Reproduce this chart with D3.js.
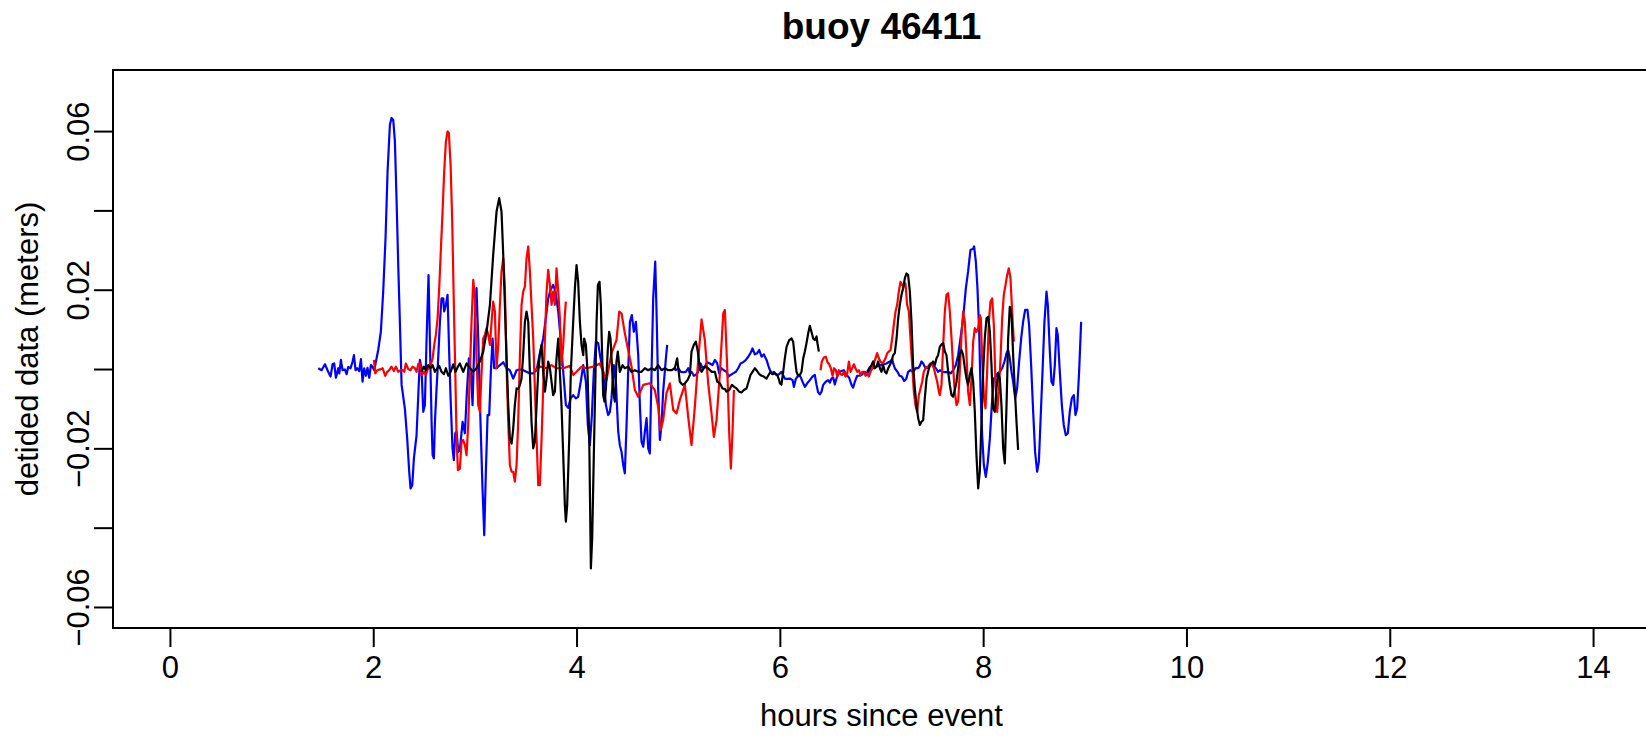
<!DOCTYPE html>
<html>
<head>
<meta charset="utf-8">
<script src="https://cdn.jsdelivr.net/npm/d3@7"></script>
<style>
  html, body { margin: 0; padding: 0; background: #fff; }
  svg { display: block; font-family: "Liberation Sans", Arial, Helvetica, sans-serif; }
</style>
</head>
<body>
<div id="chart"></div>
<script>
// Axis ticks and labels
const xTicks = [0, 2, 4, 6, 8, 10, 12, 14];
const yTicks = [-0.06, -0.04, -0.02, 0, 0.02, 0.04, 0.06];
const yTickLabels = ['\u22120.06', '', '\u22120.02', '', '0.02', '', '0.06'];

// [hours since event, detided metres]; null marks a break in the record
const blue = [
  [1.459,0.0002],[1.492,-0.0003],[1.525,0.0012],[1.557,-0.0007],[1.580,-0.0019],[1.600,0.0012],[1.616,0.0014],
  [1.633,-0.0022],[1.656,0.0002],[1.666,-0.0011],[1.682,0.0023],[1.698,-0.0003],[1.721,-0.0001],[1.738,-0.0013],
  [1.754,0.0005],[1.777,0.0002],[1.797,0.0019],[1.810,0.0035],[1.826,-0.0003],[1.843,0.0002],[1.862,-0.0005],
  [1.879,0.0025],[1.895,-0.0032],[1.911,0.0002],[1.928,-0.0017],[1.944,0.0003],[1.961,-0.0022],[1.977,0.0010],
  [1.993,0.0006],[2.010,-0.0003],[2.033,0.0027],[2.049,0.0048],[2.075,0.0094],[2.098,0.0195],[2.121,0.0330],
  [2.141,0.0498],[2.164,0.0616],[2.180,0.0633],[2.197,0.0628],[2.213,0.0574],[2.230,0.0422],[2.246,0.0262],
  [2.262,0.0119],[2.279,-0.0040],[2.311,-0.0099],[2.334,-0.0175],[2.354,-0.0259],[2.367,-0.0301],[2.384,-0.0293],
  [2.400,-0.0225],[2.426,-0.0167],[2.446,-0.0049],[2.459,0.0023],[2.475,0.0002],[2.492,-0.0108],[2.508,-0.0091],
  [2.525,0.0077],[2.544,0.0237],[2.557,0.0077],[2.574,-0.0133],[2.584,-0.0217],[2.597,-0.0225],[2.607,-0.0133],
  [2.623,-0.0049],[2.639,0.0027],[2.656,0.0119],[2.672,0.0178],[2.689,0.0178],[2.698,0.0145],[2.715,0.0162],
  [2.731,0.0187],[2.748,0.0035],[2.761,-0.0074],[2.780,-0.0200],[2.793,-0.0230],[2.807,-0.0162],[2.820,-0.0158],
  [2.836,-0.0209],[2.852,-0.0204],[2.879,-0.0133],[2.902,-0.0162],[2.918,-0.0074],[2.941,0.0027],[2.961,-0.0007],
  [2.977,-0.0091],[3.000,0.0119],[3.016,0.0204],[3.033,0.0077],[3.056,-0.0141],[3.075,-0.0301],[3.092,-0.0419],
  [3.108,-0.0259],[3.125,-0.0116],[3.141,-0.0116],[3.157,-0.0007],[3.174,0.0077],[3.190,0.0002],[3.213,0.0002],
  [3.246,0.0010],[3.279,0.0017],[3.311,0.0002],[3.344,-0.0003],[3.377,-0.0024],[3.410,-0.0003],[3.443,-0.0001],
  [3.475,-0.0003],[3.508,-0.0007],[3.541,-0.0011],[3.574,-0.0011],[3.607,-0.0003],[3.639,0.0040],[3.672,0.0077],
  [3.698,0.0128],[3.721,0.0178],[3.744,0.0199],[3.770,0.0212],[3.793,0.0195],[3.820,0.0145],[3.843,0.0077],
  [3.869,-0.0007],[3.895,-0.0091],[3.918,-0.0098],[3.941,-0.0074],[3.967,-0.0066],[3.993,-0.0074],[4.016,-0.0070],
  [4.039,-0.0036],[4.066,0.0010],[4.092,-0.0032],[4.111,-0.0141],[4.131,-0.0192],[4.151,-0.0116],[4.170,-0.0007],
  [4.190,0.0069],[4.213,0.0065],[4.236,0.0027],[4.262,-0.0007],[4.289,-0.0091],[4.311,-0.0116],[4.328,-0.0108],
  [4.344,-0.0074],[4.367,0.0010],[4.387,-0.0032],[4.410,-0.0158],[4.426,-0.0192],[4.443,-0.0209],[4.459,-0.0242],
  [4.475,-0.0263],[4.492,-0.0141],[4.508,-0.0007],[4.525,0.0119],[4.544,0.0136],[4.564,0.0094],[4.584,0.0119],
  [4.607,0.0035],[4.623,-0.0091],[4.639,-0.0183],[4.656,-0.0196],[4.672,-0.0158],[4.689,-0.0124],[4.705,-0.0200],
  [4.721,-0.0213],[4.738,-0.0007],[4.754,0.0178],[4.774,0.0271],[4.787,0.0145],[4.803,-0.0049],[4.820,-0.0179],
  [4.836,-0.0141],[4.852,-0.0057],[4.879,0.0027],[4.892,0.0061],[4.920,null],[4.951,0.0002],[4.977,-0.0003],
  [5.000,0.0002],[5.026,-0.0007],[5.049,-0.0008],[5.075,-0.0007],[5.098,0.0002],[5.115,-0.0011],[5.131,-0.0007],
  [5.154,-0.0017],[5.174,-0.0015],[5.197,-0.0007],[5.220,0.0014],[5.239,0.0002],[5.262,0.0006],[5.285,0.0017],
  [5.311,0.0014],[5.338,0.0010],[5.361,0.0023],[5.384,0.0014],[5.403,-0.0011],[5.426,0.0002],[5.449,-0.0003],
  [5.475,-0.0007],[5.495,-0.0019],[5.515,-0.0015],[5.541,-0.0011],[5.567,-0.0007],[5.590,0.0002],[5.613,0.0014],
  [5.639,0.0017],[5.666,0.0023],[5.689,0.0031],[5.711,0.0040],[5.731,0.0052],[5.754,0.0037],[5.777,0.0040],
  [5.797,0.0048],[5.820,0.0031],[5.843,0.0037],[5.869,0.0023],[5.895,0.0002],[5.918,-0.0011],[5.941,-0.0007],
  [5.967,-0.0015],[5.993,-0.0013],[6.016,-0.0007],[6.049,-0.0024],[6.072,-0.0025],[6.098,-0.0024],[6.125,-0.0028],
  [6.138,-0.0045],[6.157,-0.0025],[6.180,-0.0017],[6.203,-0.0019],[6.223,-0.0032],[6.246,-0.0045],[6.269,-0.0036],
  [6.295,-0.0028],[6.321,-0.0019],[6.344,-0.0015],[6.361,-0.0040],[6.377,-0.0059],[6.393,-0.0064],[6.410,-0.0057],
  [6.426,-0.0040],[6.452,-0.0032],[6.475,-0.0028],[6.492,-0.0034],[6.508,-0.0024],[6.525,-0.0022],[6.541,-0.0039],
  [6.557,-0.0024],[6.584,-0.0007],[6.607,-0.0005],[6.630,-0.0003],[6.656,-0.0015],[6.682,-0.0022],[6.705,-0.0040],
  [6.721,-0.0047],[6.738,-0.0032],[6.761,-0.0017],[6.787,-0.0017],[6.813,-0.0013],[6.836,-0.0007],[6.859,-0.0011],
  [6.879,-0.0005],[6.902,0.0002],[6.925,0.0002],[6.951,0.0006],[6.977,0.0010],[7.000,0.0010],[7.023,0.0012],
  [7.049,0.0014],[7.069,0.0017],[7.089,0.0020],[7.105,0.0025],[7.115,0.0014],[7.131,0.0002],[7.157,-0.0007],
  [7.177,-0.0017],[7.200,-0.0019],[7.223,-0.0030],[7.243,-0.0025],[7.262,-0.0007],[7.285,-0.0003],[7.311,-0.0007],
  [7.338,0.0003],[7.361,0.0002],[7.377,0.0008],[7.393,0.0019],[7.410,0.0014],[7.433,0.0002],[7.456,0.0003],
  [7.475,0.0012],[7.492,0.0014],[7.515,0.0008],[7.534,0.0002],[7.557,-0.0007],[7.574,-0.0003],[7.600,-0.0007],
  [7.623,-0.0008],[7.656,-0.0007],[7.682,-0.0011],[7.705,-0.0003],[7.731,0.0010],[7.754,0.0035],[7.777,0.0077],
  [7.803,0.0128],[7.830,0.0204],[7.852,0.0246],[7.875,0.0300],[7.902,0.0303],[7.911,0.0309],[7.928,0.0271],
  [7.944,0.0204],[7.961,0.0094],[7.974,-0.0049],[7.990,-0.0167],[8.007,-0.0242],[8.026,-0.0272],[8.046,-0.0234],
  [8.066,-0.0175],[8.085,-0.0091],[8.105,-0.0024],[8.125,-0.0019],[8.141,-0.0011],[8.164,-0.0007],[8.187,0.0002],
  [8.210,0.0019],[8.230,0.0040],[8.246,0.0048],[8.262,0.0027],[8.279,-0.0007],[8.295,-0.0032],[8.315,-0.0074],
  [8.334,-0.0049],[8.354,0.0019],[8.374,0.0077],[8.393,0.0119],[8.413,0.0149],[8.436,0.0149],[8.452,0.0111],
  [8.472,0.0010],[8.492,-0.0108],[8.511,-0.0209],[8.531,-0.0259],[8.548,-0.0234],[8.564,-0.0133],[8.584,-0.0007],
  [8.603,0.0119],[8.623,0.0195],[8.636,0.0162],[8.656,0.0044],[8.672,-0.0032],[8.689,-0.0040],[8.705,0.0010],
  [8.721,0.0103],[8.734,0.0086],[8.754,-0.0007],[8.774,-0.0091],[8.793,-0.0141],[8.813,-0.0167],[8.833,-0.0162],
  [8.852,-0.0108],[8.872,-0.0074],[8.892,-0.0066],[8.908,-0.0116],[8.925,-0.0099],[8.944,-0.0007],[8.964,0.0119]
];

const redEarly = [
  [2.007,0.0023],[2.020,-0.0011],[2.039,-0.0003],[2.066,-0.0001],[2.092,0.0002],[2.118,-0.0017],[2.138,-0.0007],
  [2.157,-0.0003],[2.180,0.0006],[2.203,-0.0005],[2.223,0.0006],[2.246,-0.0007],[2.269,-0.0003],[2.289,-0.0003],
  [2.305,-0.0007],[2.321,0.0014],[2.344,0.0000],[2.367,-0.0003],[2.387,0.0006],[2.410,0.0002],[2.426,-0.0007],
  [2.443,0.0013],[2.459,0.0014],[2.475,-0.0015],[2.498,-0.0007],[2.518,-0.0015],[2.541,0.0002],[2.564,0.0010],
  [2.584,0.0027],[2.600,0.0061],[2.616,0.0086],[2.633,0.0128],[2.649,0.0204],[2.666,0.0305],[2.682,0.0397],
  [2.698,0.0498],[2.715,0.0574],[2.731,0.0599],[2.744,0.0595],[2.761,0.0515],[2.777,0.0372],[2.793,0.0162],
  [2.807,-0.0007],[2.820,-0.0175],[2.833,-0.0255],[2.852,-0.0251],[2.869,-0.0183],[2.885,-0.0179],[2.902,-0.0192],
  [2.918,-0.0217],[2.934,-0.0141],[2.951,-0.0007],[2.967,0.0119],[2.984,0.0225],[3.000,0.0178],[3.016,0.0027],
  [3.033,-0.0091],[3.049,-0.0108],[3.066,-0.0007],[3.082,0.0077],[3.098,0.0086],[3.115,0.0103],[3.131,0.0086],
  [3.148,0.0061],[3.164,0.0119],[3.180,0.0170],[3.197,0.0145],[3.213,0.0002],[3.230,0.0061],[3.246,0.0162],
  [3.262,0.0246],[3.279,0.0279],[3.295,0.0204],[3.311,0.0010],[3.328,-0.0133],[3.344,-0.0242],[3.361,-0.0259],
  [3.377,-0.0259],[3.393,-0.0284],[3.410,-0.0242],[3.426,-0.0133],[3.443,0.0035],[3.459,0.0162],[3.475,0.0195],
  [3.492,0.0208],[3.508,0.0279],[3.525,0.0309],[3.541,0.0246],[3.557,0.0162],[3.574,0.0077],[3.590,-0.0049],
  [3.607,-0.0175],[3.623,-0.0293],[3.639,-0.0293],[3.656,-0.0175],[3.672,-0.0049],[3.689,0.0077],[3.705,0.0195],
  [3.721,0.0250],[3.738,0.0212],[3.754,0.0162],[3.770,0.0195],[3.787,0.0162],[3.803,0.0254],[3.820,0.0195],
  [3.836,0.0128],[3.852,0.0010],[3.869,0.0061],[3.885,0.0136],[3.895,0.0170]
];

const redLate = [
  [3.590,-0.0003],[3.639,0.0006],[3.705,0.0002],[3.754,0.0010],[3.803,0.0002],[3.869,0.0002],[3.934,0.0008],
  [3.967,-0.0015],[4.000,-0.0007],[4.049,0.0006],[4.098,0.0002],[4.164,0.0006],[4.230,0.0014],[4.295,-0.0028],
  [4.344,0.0040],[4.393,0.0073],[4.420,0.0145],[4.443,0.0140],[4.475,0.0090],[4.508,0.0048],[4.541,0.0006],
  [4.574,-0.0053],[4.607,-0.0070],[4.656,-0.0040],[4.721,-0.0036],[4.770,-0.0053],[4.803,-0.0095],[4.826,-0.0154],
  [4.852,-0.0129],[4.885,-0.0061],[4.918,-0.0036],[4.951,-0.0103],[4.984,-0.0112],[5.016,-0.0078],[5.066,-0.0040],
  [5.098,-0.0120],[5.131,-0.0192],[5.164,-0.0095],[5.197,0.0023],[5.230,0.0125],[5.262,0.0073],[5.295,-0.0036],
  [5.328,-0.0112],[5.351,-0.0171],[5.377,-0.0129],[5.410,-0.0011],[5.443,0.0140],[5.459,0.0149],[5.482,0.0006],
  [5.502,-0.0162],[5.518,-0.0251],[5.534,-0.0162],[5.548,-0.0053],[5.900,null],
  [6.400,-0.0003],[6.413,0.0019],[6.433,0.0029],[6.452,0.0031],[6.469,0.0017],[6.485,0.0012],[6.502,0.0002],
  [6.518,-0.0017],[6.534,0.0002],[6.551,-0.0003],[6.564,-0.0019],[6.580,-0.0003],[6.597,-0.0013],[6.613,-0.0015],
  [6.630,-0.0007],[6.646,-0.0019],[6.662,-0.0013],[6.679,0.0019],[6.695,-0.0007],[6.711,0.0002],[6.728,0.0012],
  [6.744,0.0002],[6.761,-0.0007],[6.777,-0.0003],[6.793,-0.0015],[6.810,-0.0007],[6.826,-0.0007],[6.843,-0.0017],
  [6.859,-0.0011],[6.875,-0.0019],[6.892,-0.0007],[6.908,0.0002],[6.925,0.0014],[6.941,0.0027],[6.957,0.0040],
  [6.974,0.0027],[6.990,0.0019],[7.007,0.0014],[7.023,0.0019],[7.039,0.0027],[7.056,0.0040],[7.072,0.0044],
  [7.089,0.0048],[7.105,0.0077],[7.121,0.0111],[7.138,0.0145],[7.154,0.0162],[7.170,0.0195],[7.187,0.0220],
  [7.203,0.0212],[7.220,0.0208],[7.236,0.0216],[7.252,0.0162],[7.269,0.0145],[7.285,0.0077],[7.302,0.0010],
  [7.318,-0.0057],[7.334,-0.0091],[7.351,-0.0108],[7.367,-0.0066],[7.384,-0.0049],[7.400,-0.0032],[7.416,-0.0007],
  [7.433,0.0002],[7.449,0.0006],[7.466,0.0002],[7.482,0.0014],[7.498,0.0010],[7.515,0.0002],[7.531,-0.0015],
  [7.548,-0.0032],[7.564,-0.0057],[7.574,-0.0066],[7.590,-0.0040],[7.607,0.0061],[7.623,0.0145],[7.639,0.0187],
  [7.656,0.0191],[7.672,0.0145],[7.689,0.0077],[7.705,0.0002],[7.721,-0.0057],[7.738,-0.0091],[7.754,-0.0082],
  [7.770,-0.0007],[7.787,0.0086],[7.803,0.0145],[7.820,0.0119],[7.836,0.0035],[7.852,-0.0057],[7.869,-0.0091],
  [7.885,-0.0024],[7.902,0.0069],[7.918,0.0103],[7.934,0.0094],[7.951,0.0103],[7.967,0.0136],[7.977,0.0128],
  [7.990,0.0027],[8.007,-0.0066],[8.023,-0.0099],[8.039,-0.0007],[8.056,0.0119],[8.072,0.0170],[8.089,0.0178],
  [8.105,0.0111],[8.121,-0.0032],[8.138,-0.0108],[8.154,-0.0057],[8.171,0.0027],[8.187,0.0128],[8.203,0.0187],
  [8.220,0.0212],[8.236,0.0237],[8.252,0.0254],[8.269,0.0229],[8.285,0.0145],[8.302,0.0069]
];

const black = [
  [2.475,-0.0007],[2.498,0.0006],[2.518,-0.0003],[2.541,0.0010],[2.564,0.0002],[2.584,0.0010],[2.607,-0.0007],
  [2.630,0.0002],[2.649,0.0008],[2.672,-0.0007],[2.695,-0.0013],[2.715,0.0002],[2.738,-0.0017],[2.761,-0.0007],
  [2.787,0.0012],[2.810,-0.0007],[2.833,0.0006],[2.852,0.0014],[2.885,-0.0007],[2.918,0.0014],[2.951,0.0002],
  [2.984,-0.0007],[3.016,0.0002],[3.049,0.0019],[3.082,0.0044],[3.115,0.0094],[3.148,0.0162],[3.180,0.0288],
  [3.213,0.0397],[3.239,0.0431],[3.262,0.0397],[3.279,0.0288],[3.295,0.0162],[3.311,0.0035],[3.328,-0.0091],
  [3.344,-0.0175],[3.361,-0.0188],[3.377,-0.0150],[3.393,-0.0091],[3.410,-0.0049],[3.426,-0.0050],[3.443,-0.0040],
  [3.459,-0.0024],[3.475,0.0035],[3.492,0.0119],[3.508,0.0145],[3.525,0.0119],[3.541,-0.0007],[3.557,-0.0133],
  [3.574,-0.0200],[3.590,-0.0183],[3.607,-0.0091],[3.623,-0.0007],[3.639,0.0035],[3.656,0.0061],[3.672,-0.0007],
  [3.689,-0.0057],[3.705,-0.0024],[3.721,0.0019],[3.738,0.0002],[3.754,-0.0032],[3.770,-0.0066],[3.787,-0.0057],
  [3.803,0.0027],[3.820,0.0077],[3.836,-0.0007],[3.852,-0.0091],[3.869,-0.0217],[3.885,-0.0343],[3.895,-0.0385],
  [3.908,-0.0343],[3.928,-0.0175],[3.944,-0.0007],[3.967,0.0119],[3.984,0.0204],[4.000,0.0262],[4.016,0.0220],
  [4.033,0.0119],[4.049,0.0061],[4.066,0.0035],[4.075,0.0077],[4.092,0.0061],[4.108,-0.0007],[4.125,-0.0175],
  [4.141,-0.0503],[4.154,-0.0427],[4.170,-0.0217],[4.187,-0.0007],[4.197,0.0119],[4.210,0.0212],[4.226,0.0220],
  [4.239,0.0162],[4.252,0.0035],[4.262,-0.0066],[4.275,-0.0082],[4.289,-0.0049],[4.308,0.0052],[4.321,0.0094],
  [4.334,0.0077],[4.348,0.0010],[4.361,-0.0057],[4.377,-0.0082],[4.393,0.0019],[4.406,0.0044],[4.426,-0.0007],
  [4.452,0.0010],[4.475,0.0002],[4.508,0.0006],[4.541,-0.0007],[4.574,-0.0003],[4.607,-0.0007],[4.639,-0.0007],
  [4.672,0.0002],[4.705,-0.0003],[4.738,0.0002],[4.770,-0.0003],[4.803,0.0010],[4.836,-0.0003],[4.869,0.0002],
  [4.902,-0.0003],[4.934,-0.0003],[4.967,0.0002],[4.990,0.0027],[5.003,-0.0003],[5.016,-0.0032],[5.043,-0.0040],
  [5.066,-0.0036],[5.092,-0.0028],[5.115,-0.0015],[5.131,0.0044],[5.154,0.0061],[5.174,0.0069],[5.193,0.0044],
  [5.213,0.0002],[5.230,-0.0007],[5.262,0.0006],[5.295,0.0002],[5.328,-0.0007],[5.361,-0.0007],[5.384,-0.0032],
  [5.410,-0.0036],[5.436,-0.0049],[5.459,-0.0050],[5.475,-0.0057],[5.502,-0.0053],[5.528,-0.0040],[5.551,-0.0045],
  [5.574,-0.0049],[5.600,-0.0057],[5.623,-0.0059],[5.646,-0.0053],[5.672,-0.0049],[5.692,-0.0032],[5.711,-0.0015],
  [5.731,-0.0007],[5.754,0.0002],[5.770,-0.0003],[5.797,-0.0013],[5.820,-0.0017],[5.843,-0.0019],[5.869,-0.0024],
  [5.889,-0.0015],[5.908,-0.0007],[5.928,-0.0013],[5.951,-0.0011],[5.974,-0.0015],[5.993,-0.0028],[6.000,-0.0036],
  [6.016,-0.0039],[6.033,-0.0007],[6.049,0.0027],[6.066,0.0056],[6.092,0.0073],[6.115,0.0077],[6.131,0.0069],
  [6.148,0.0027],[6.164,-0.0007],[6.180,-0.0017],[6.197,-0.0015],[6.213,-0.0007],[6.230,0.0027],[6.246,0.0044],
  [6.262,0.0065],[6.279,0.0090],[6.295,0.0109],[6.311,0.0094],[6.328,0.0077],[6.344,0.0073],[6.361,0.0082],
  [6.370,0.0065],[6.384,0.0044],[6.600,null],
  [6.859,-0.0007],[6.879,0.0002],[6.902,0.0010],[6.918,0.0019],[6.934,0.0002],[6.951,0.0006],[6.967,0.0019],
  [6.984,0.0002],[7.000,-0.0007],[7.016,0.0010],[7.033,-0.0007],[7.049,-0.0011],[7.066,0.0002],[7.082,0.0010],
  [7.098,0.0019],[7.115,0.0035],[7.131,0.0040],[7.148,0.0077],[7.164,0.0128],[7.180,0.0162],[7.197,0.0187],
  [7.213,0.0204],[7.230,0.0229],[7.246,0.0241],[7.262,0.0237],[7.279,0.0195],[7.295,0.0119],[7.311,0.0010],
  [7.328,-0.0049],[7.344,-0.0091],[7.361,-0.0124],[7.377,-0.0141],[7.393,-0.0133],[7.410,-0.0129],[7.426,-0.0074],
  [7.443,-0.0024],[7.459,-0.0007],[7.475,0.0010],[7.492,0.0014],[7.508,0.0019],[7.525,0.0010],[7.541,0.0027],
  [7.557,0.0035],[7.574,0.0056],[7.590,0.0062],[7.607,0.0065],[7.623,0.0044],[7.639,0.0035],[7.656,-0.0007],
  [7.672,-0.0040],[7.689,-0.0066],[7.705,-0.0070],[7.721,-0.0053],[7.738,-0.0032],[7.754,0.0002],[7.770,0.0040],
  [7.787,0.0048],[7.803,0.0035],[7.820,0.0002],[7.836,-0.0024],[7.852,-0.0040],[7.869,-0.0015],[7.885,0.0002],
  [7.902,-0.0032],[7.918,-0.0108],[7.934,-0.0217],[7.951,-0.0301],[7.967,-0.0259],[7.984,-0.0133],[8.000,-0.0007],
  [8.016,0.0077],[8.033,0.0128],[8.049,0.0132],[8.066,0.0094],[8.082,0.0010],[8.098,-0.0099],[8.115,-0.0108],
  [8.131,-0.0049],[8.148,-0.0011],[8.164,-0.0024],[8.180,-0.0091],[8.197,-0.0200],[8.213,-0.0238],[8.230,-0.0091],
  [8.246,0.0077],[8.262,0.0157],[8.279,0.0136],[8.295,0.0035],[8.311,-0.0049],[8.328,-0.0133],[8.344,-0.0204]
];

const series = [
  { data: blue, color: '#0000ff' },
  { data: redEarly, color: '#ff0000' },
  { data: redLate, color: '#ff0000' },
  { data: black, color: '#000000' }
];

const W = 1646, H = 737;
const margin = { top: 70, right: -4, bottom: 109, left: 113 };
const plotRight = W - margin.right;
const plotBottom = H - margin.bottom;

const svg = d3.select('#chart').append('svg')
  .attr('width', W)
  .attr('height', H);

const x = d3.scaleLinear().domain([-0.56, 14.56]).range([margin.left, plotRight]);
const y = d3.scaleLinear().domain([-0.0653, 0.0754]).range([plotBottom, margin.top]);

// Series
const line = d3.line()
  .defined(d => d[1] !== null)
  .x(d => x(d[0]))
  .y(d => y(d[1]));

series.forEach(s => {
  svg.append('path')
    .datum(s.data)
    .attr('fill', 'none')
    .attr('stroke', s.color)
    .attr('stroke-width', 2.2)
    .attr('stroke-linejoin', 'round')
    .attr('d', line);
});

// Box
svg.append('rect')
  .attr('x', margin.left)
  .attr('y', margin.top)
  .attr('width', plotRight - margin.left)
  .attr('height', plotBottom - margin.top)
  .attr('fill', 'none')
  .attr('stroke', '#000')
  .attr('stroke-width', 2);

// X axis
const xAxis = svg.append('g')
  .attr('transform', `translate(0,${plotBottom})`)
  .call(d3.axisBottom(x).tickValues(xTicks).tickSize(19).tickPadding(9).tickFormat(d3.format('d')));
xAxis.select('.domain').remove();
xAxis.selectAll('line').attr('stroke', '#000').attr('stroke-width', 2);
xAxis.selectAll('text')
  .attr('fill', '#000')
  .style('font-size', '31px')
  .style('font-family', '"Liberation Sans", Arial, sans-serif');

// Y axis, labels parallel to the axis
const yAxis = svg.append('g')
  .attr('transform', `translate(${margin.left},0)`)
  .call(d3.axisLeft(y).tickValues(yTicks).tickSize(19).tickFormat((d, i) => yTickLabels[i]));
yAxis.select('.domain').remove();
yAxis.selectAll('line').attr('stroke', '#000').attr('stroke-width', 2);
yAxis.selectAll('text')
  .attr('x', null)
  .attr('dy', null)
  .attr('text-anchor', 'middle')
  .attr('transform', 'translate(-24,0) rotate(-90)')
  .attr('fill', '#000')
  .style('font-size', '31px')
  .style('font-family', '"Liberation Sans", Arial, sans-serif');

// Titles
const midX = (margin.left + plotRight) / 2;
svg.append('text')
  .attr('x', midX)
  .attr('y', 39)
  .attr('text-anchor', 'middle')
  .style('font-size', '37px')
  .style('font-weight', 'bold')
  .text('buoy 46411');

svg.append('text')
  .attr('x', midX)
  .attr('y', 726)
  .attr('text-anchor', 'middle')
  .style('font-size', '31px')
  .text('hours since event');

svg.append('text')
  .attr('transform', `translate(38,${(margin.top + plotBottom) / 2}) rotate(-90)`)
  .attr('text-anchor', 'middle')
  .style('font-size', '31px')
  .text('detided data (meters)');
</script>
</body>
</html>
